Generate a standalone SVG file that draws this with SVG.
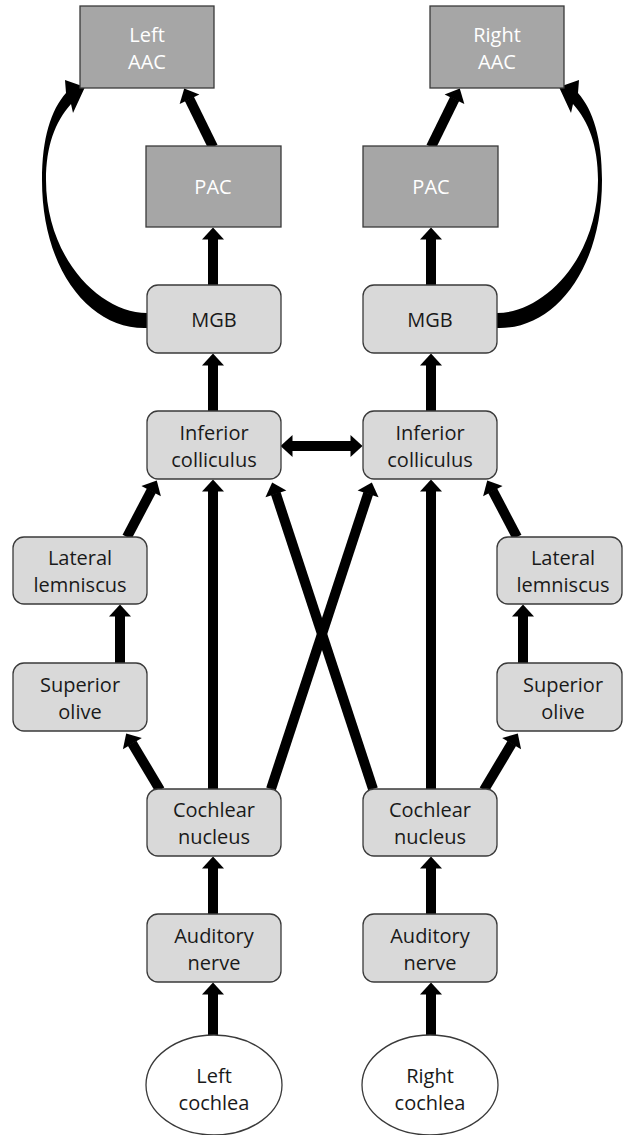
<svg xmlns="http://www.w3.org/2000/svg" width="624" height="1135" viewBox="0 0 624 1135">
<defs>
<marker id="ah" markerUnits="userSpaceOnUse" markerWidth="14" markerHeight="24" viewBox="0 -12 14 24" refX="0.5" refY="0" orient="auto-start-reverse" overflow="visible">
<path d="M0,-11 L12,0 L0,11 Z" fill="#000"/>
</marker>
<path id="curve" d="M147,328 C90,330 42,270 42,180 C42,138 51,110 66,93 L65,80 L85,87 L73,113 L71,104 C55,122 46,146 46,180 C46,258 100,313 147,313 Z"/>
</defs>
<style>
.box{fill:#d9d9d9;stroke:#3a3a3a;stroke-width:1.3}
.dark{fill:#a6a6a6;stroke:#3a3a3a;stroke-width:1.3}
.ell{fill:#ffffff;stroke:#3a3a3a;stroke-width:1.3}
text{font-family:"Open Sans","Noto Sans","DejaVu Sans",sans-serif;font-size:20px;text-anchor:middle;fill:#1a1a1a}
.w{fill:#ffffff}
.arr{stroke:#000;stroke-width:10;fill:none;marker-end:url(#ah)}
.dbl{stroke:#000;stroke-width:10;fill:none;marker-end:url(#ah);marker-start:url(#ah)}
</style>
<rect width="624" height="1135" fill="#ffffff"/>
<g id="connectors">
<path class="arr" d="M213,1035 L213.01,994"/>
<path class="arr" d="M213,914 L213.01,868"/>
<path class="arr" d="M213,789 L213.01,491"/>
<path class="arr" d="M213,411 L213.01,365"/>
<path class="arr" d="M213,285 L213.01,239"/>
<path class="arr" d="M213,147 L189.3,98.8"/>
<path class="arr" d="M160,790 L132.1,743.3"/>
<path class="arr" d="M120,663 L120.01,616"/>
<path class="arr" d="M127,537 L151.4,490.6"/>
<path class="arr" d="M271,789 L368.25,493.4"/>
<path class="arr" d="M373,789 L275.75,493.4"/>
<path class="dbl" d="M292,446 L351,446"/>
<path class="arr" d="M431,1035 L431.01,994"/>
<path class="arr" d="M431,914 L431.01,868"/>
<path class="arr" d="M431,789 L431.01,491"/>
<path class="arr" d="M431,411 L431.01,365"/>
<path class="arr" d="M431,285 L431.01,239"/>
<path class="arr" d="M431,147 L454.7,98.8"/>
<path class="arr" d="M484,790 L511.9,743.3"/>
<path class="arr" d="M523,663 L523.01,616"/>
<path class="arr" d="M517,537 L492.6,490.6"/>
<use href="#curve" fill="#000"/>
<use href="#curve" fill="#000" transform="translate(644,0) scale(-1,1)"/>
</g>
<g id="left-aac"><rect class="dark" x="80" y="6" width="134" height="82"/><text class="w" x="147" y="42">Left</text><text class="w" x="147" y="69">AAC</text></g>
<g id="right-aac"><rect class="dark" x="430" y="6" width="134" height="82"/><text class="w" x="497" y="42">Right</text><text class="w" x="497" y="69">AAC</text></g>
<g id="left-pac"><rect class="dark" x="146" y="146" width="135" height="81"/><text class="w" x="213" y="194">PAC</text></g>
<g id="right-pac"><rect class="dark" x="363" y="146" width="135" height="81"/><text class="w" x="431" y="194">PAC</text></g>
<g id="left-mgb"><rect class="box" x="147" y="285" width="134" height="68" rx="11"/><text x="214" y="327">MGB</text></g>
<g id="right-mgb"><rect class="box" x="363" y="285" width="134" height="68" rx="11"/><text x="430" y="327">MGB</text></g>
<g id="left-ic"><rect class="box" x="147" y="411" width="134" height="68" rx="11"/><text x="214" y="440">Inferior</text><text x="214" y="467">colliculus</text></g>
<g id="right-ic"><rect class="box" x="363" y="411" width="134" height="68" rx="11"/><text x="430" y="440">Inferior</text><text x="430" y="467">colliculus</text></g>
<g id="left-ll"><rect class="box" x="13" y="537" width="134" height="67" rx="11"/><text x="80" y="565">Lateral</text><text x="80" y="592">lemniscus</text></g>
<g id="right-ll"><rect class="box" x="497" y="537" width="125" height="67" rx="11"/><text x="563" y="565">Lateral</text><text x="563" y="592">lemniscus</text></g>
<g id="left-so"><rect class="box" x="13" y="663" width="134" height="68" rx="11"/><text x="80" y="692">Superior</text><text x="80" y="719">olive</text></g>
<g id="right-so"><rect class="box" x="497" y="663" width="125" height="68" rx="11"/><text x="563" y="692">Superior</text><text x="563" y="719">olive</text></g>
<g id="left-cn"><rect class="box" x="147" y="789" width="134" height="67" rx="11"/><text x="214" y="817">Cochlear</text><text x="214" y="844">nucleus</text></g>
<g id="right-cn"><rect class="box" x="363" y="789" width="134" height="67" rx="11"/><text x="430" y="817">Cochlear</text><text x="430" y="844">nucleus</text></g>
<g id="left-an"><rect class="box" x="147" y="914" width="134" height="68" rx="11"/><text x="214" y="943">Auditory</text><text x="214" y="970">nerve</text></g>
<g id="right-an"><rect class="box" x="363" y="914" width="134" height="68" rx="11"/><text x="430" y="943">Auditory</text><text x="430" y="970">nerve</text></g>
<g id="left-cochlea"><ellipse class="ell" cx="214" cy="1085" rx="68" ry="50"/><text x="214" y="1083">Left</text><text x="214" y="1110">cochlea</text></g>
<g id="right-cochlea"><ellipse class="ell" cx="430" cy="1085" rx="68" ry="50"/><text x="430" y="1083">Right</text><text x="430" y="1110">cochlea</text></g>
</svg>
